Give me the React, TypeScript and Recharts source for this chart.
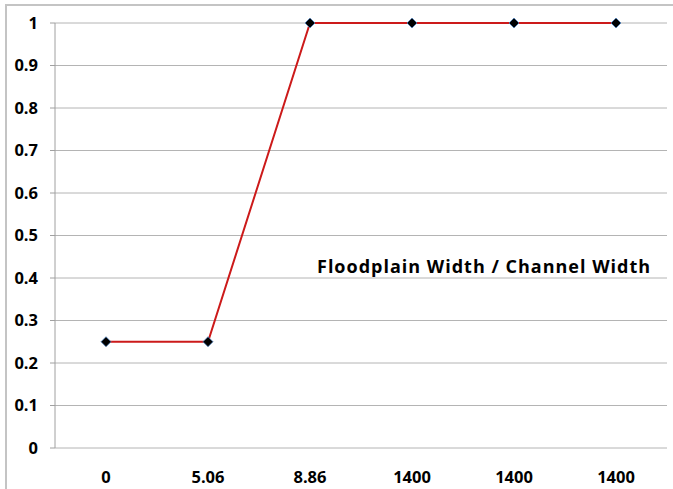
import React from 'react';
import { LineChart, Line, XAxis, YAxis, CartesianGrid } from 'recharts';

// category labels as printed under the axis
const categories = ['0', '5.06', '8.86', '1400', '1400', '1400'];
// series values
const values = [0.25, 0.25, 1, 1, 1, 1];
const yTicks = [0, 0.1, 0.2, 0.3, 0.4, 0.5, 0.6, 0.7, 0.8, 0.9, 1];

const data = categories.map((label, i) => ({ pos: i + 0.5, label, value: values[i] }));
const centerTicks = categories.map((_, i) => i + 0.5);
const edgeTicks = [0, ...categories.map((_, i) => i + 1)];

const FONT = '"Open Sans", sans-serif';
const tickStyle = { fill: '#000', fontSize: 16.5, fontWeight: 700, fontFamily: FONT };

const Diamond = (props: any) => {
    const { cx, cy } = props;
    if (cx == null || cy == null) return null;
    const r = 5;
    return (
        <polygon
            points={`${cx},${cy - r} ${cx + r},${cy} ${cx},${cy + r} ${cx - r},${cy}`}
            fill="#000"
            stroke="#4f81bd"
            strokeWidth={0.8}
        />
    );
};

const App: React.FC = () => {
    return (
        <div style={{ position: 'fixed', left: 0, top: 0, width: 673, height: 489, overflow: 'hidden', background: '#fff' }}>
            {/* outer chart frame */}
            <div
                style={{
                    position: 'absolute',
                    left: 5,
                    top: 4,
                    width: 700,
                    height: 520,
                    border: '2px solid #c4c4c4',
                }}
            />
            <div style={{ position: 'absolute', left: 0, top: 0 }}>
                <LineChart width={673} height={489} data={data} margin={{ top: 23, right: 6, left: 10, bottom: 11 }}>
                    <CartesianGrid vertical={false} stroke="#b4b4b4" strokeWidth={1} />
                    <XAxis
                        xAxisId="edges"
                        type="number"
                        dataKey="pos"
                        domain={[0, categories.length]}
                        ticks={edgeTicks}
                        tick={false}
                        tickSize={6}
                        axisLine={{ stroke: '#a0a0a0' }}
                        tickLine={{ stroke: '#808080' }}
                        height={0}
                    />
                    <XAxis
                        type="number"
                        dataKey="pos"
                        domain={[0, categories.length]}
                        ticks={centerTicks}
                        tickFormatter={(v: number) => categories[Math.floor(v)]}
                        axisLine={false}
                        tickLine={false}
                        tickMargin={17}
                        height={30}
                        tick={tickStyle}
                    />
                    <YAxis
                        domain={[0, 1]}
                        ticks={yTicks}
                        width={45}
                        tickSize={5}
                        tickMargin={12}
                        axisLine={{ stroke: '#a0a0a0' }}
                        tickLine={{ stroke: '#a0a0a0' }}
                        tick={tickStyle}
                    />
                    <Line
                        dataKey="value"
                        type="linear"
                        stroke="#cc1a1a"
                        strokeWidth={2}
                        dot={<Diamond />}
                        activeDot={false}
                        isAnimationActive={false}
                    />
                </LineChart>
            </div>
            <div
                style={{
                    position: 'absolute',
                    left: 317,
                    top: 254,
                    fontFamily: FONT,
                    fontWeight: 700,
                    fontSize: 18,
                    letterSpacing: 1,
                    color: '#000',
                    whiteSpace: 'nowrap',
                }}
            >
                Floodplain Width / Channel Width
            </div>
        </div>
    );
};

export default App;
